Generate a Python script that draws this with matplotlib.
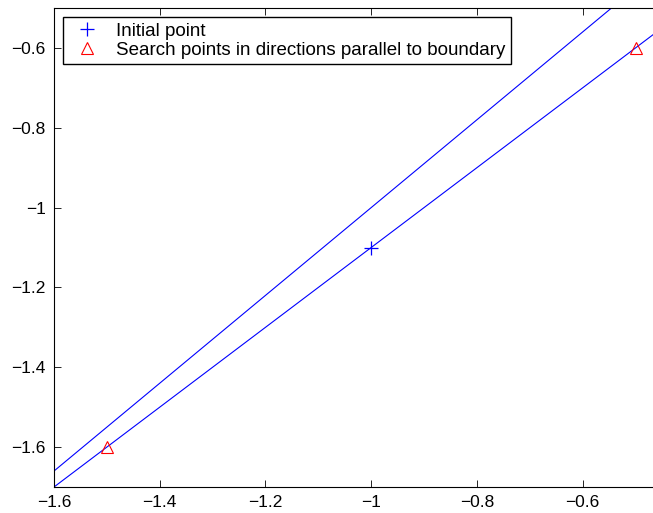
import matplotlib
matplotlib.use("Agg")
import matplotlib.pyplot as plt

plt.rcParams['font.family'] = ['Liberation Sans', 'DejaVu Sans']

# boundary lines (end points)
upper_x = [-1.7, -0.4]
upper_y = [-1.77, -0.34]
lower_x = [-1.7, -0.4]
lower_y = [-1.8, -0.5]

# points
init_x = [-1.0]
init_y = [-1.1]
search_x = [-1.5, -0.5]
search_y = [-1.6, -0.6]

xticks = [-1.6, -1.4, -1.2, -1.0, -0.8, -0.6]
xlabels = ['\u22121.6', '\u22121.4', '\u22121.2', '\u22121', '\u22120.8', '\u22120.6']
yticks = [-1.6, -1.4, -1.2, -1.0, -0.8, -0.6]
ylabels = ['\u22121.6', '\u22121.4', '\u22121.2', '\u22121', '\u22120.8', '\u22120.6']

W, H = 653, 513
fig = plt.figure(figsize=(W / 100, H / 100), dpi=100)
# axes runs past the right edge of the picture, as in the reference
ax = fig.add_axes([54 / W, 26 / H, 634.4 / W, 479 / H])

ax.plot(upper_x, upper_y, color='#0000ff', lw=0.8)
ax.plot(lower_x, lower_y, color='#0000ff', lw=0.8)
h1, = ax.plot(init_x, init_y, '+', color='#0000ff', ms=10, mew=0.9, ls='none',
              label='Initial point')
h2, = ax.plot(search_x, search_y, '^', mfc='none', mec='#ff0000', ms=9, mew=0.8,
              ls='none', label='Search points in directions parallel to boundary')

ax.set_xlim(-1.6, -0.4)
ax.set_ylim(-1.7, -0.5)
ax.set_xticks(xticks)
ax.set_xticklabels(xlabels)
ax.set_yticks(yticks)
ax.set_yticklabels(ylabels)
ax.tick_params(direction='in', length=5, width=0.6, top=True, right=True,
               labelsize=12.5, pad=6)
for s in ax.spines.values():
    s.set_linewidth(0.8)

leg = ax.legend(handles=[h1, h2], loc='upper left',
                bbox_to_anchor=(63 / W, 1 - 17 / H), bbox_transform=fig.transFigure,
                borderaxespad=0, fontsize=13.5, fancybox=False, framealpha=1,
                edgecolor='black', handlelength=2.0, handletextpad=0.5,
                borderpad=0.3, labelspacing=0.1)
leg.get_frame().set_linewidth(1.0)

fig.savefig('out.png', dpi=100)
